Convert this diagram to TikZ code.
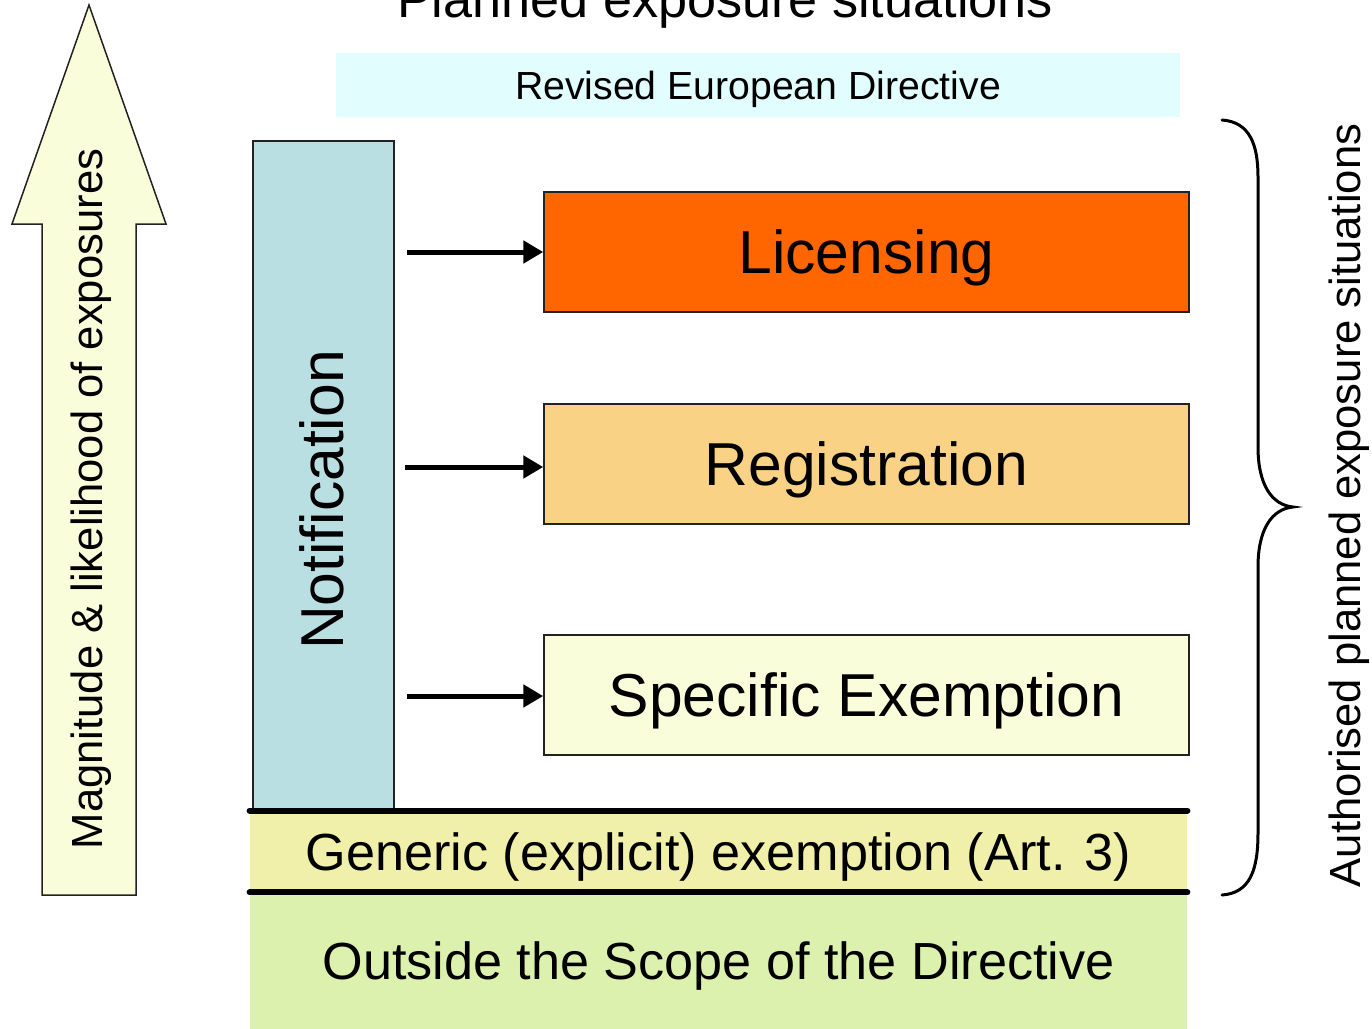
\documentclass[tikz,border=0pt]{standalone}
\usepackage{fontspec}
\setmainfont{Liberation Sans}
\usetikzlibrary{arrows.meta}
\definecolor{arrowfill}{HTML}{FAFDDA}
\definecolor{revfill}{HTML}{E2FDFD}
\definecolor{notifill}{HTML}{B9DFE3}
\definecolor{licfill}{HTML}{FF6600}
\definecolor{regfill}{HTML}{FAD286}
\definecolor{specfill}{HTML}{FAFDDA}
\definecolor{genfill}{HTML}{F0F0AA}
\definecolor{outfill}{HTML}{DDF1AE}
\definecolor{edge}{HTML}{222222}
\begin{document}
\begin{tikzpicture}[x=0.5pt,y=-0.5pt,
  box/.style={draw=edge, line width=0.75pt, inner sep=0pt,
    minimum width=322.5pt, minimum height=60pt,
    font=\fontsize{30.3}{36}\selectfont, text height=21.7pt, text depth=0pt},
  band/.style={inner sep=0pt, minimum width=468.5pt,
    font=\fontsize{26.1}{31}\selectfont, text height=18.7pt, text depth=0pt},
  sidetext/.style={inner sep=0pt, font=\fontsize{21.8}{26}\selectfont},
  feed/.style={line width=2.5pt, -{Triangle[length=10pt,width=11pt]}},
  sepline/.style={line width=3pt, line cap=round},
  bracestyle/.style={line width=1.5pt, line cap=round}]
\path[use as bounding box] (0,0) rectangle (1372,1029);
\clip (0,0) rectangle (1372,1029);

% title
\node[inner sep=0pt, anchor=base, font=\fontsize{26.1}{31}\selectfont] (title) at (725,17) {Planned exposure situations};

% revised directive banner
\node[fill=revfill, inner sep=0pt, minimum width=422pt, minimum height=32pt,
  font=\fontsize{19.6}{24}\selectfont, text height=14pt, text depth=0pt] (rev) at (758,85) {Revised European Directive};

% magnitude arrow
\draw[fill=arrowfill, draw=edge, line width=0.75pt, line join=miter]
  (89,5) -- (166,224) -- (136,224) -- (136,895) -- (42,895) -- (42,224) -- (12,224) -- cycle;
\node[sidetext, rotate=90, anchor=base] (mag) at (102,499) {Magnitude \& likelihood of exposures};

% bottom bands
\node[band, fill=outfill, minimum height=68.5pt] (out) at (718.5,960.5) {Outside the Scope of the Directive};
\node[band, fill=genfill, minimum height=40.5pt] (gen) at (718.5,851.5) {Generic (explicit) exemption (Art. 3)};

% notification column
\node[draw=edge, fill=notifill, line width=0.75pt, inner sep=0pt,
  minimum width=70.5pt, minimum height=334.5pt] (noti) at (323.5,475.5) {};
\node[inner sep=0pt, rotate=90, anchor=base, font=\fontsize{30.3}{36}\selectfont] (notitext) at (343,500) {Notification};

% regulatory boxes
\node[box, fill=licfill] (lic) at (866.5,252) {Licensing};
\node[box, fill=regfill] (reg) at (866.5,464) {Registration};
\node[box, fill=specfill] (spec) at (866.5,695) {Specific Exemption};

% arrows
\coordinate (a1) at (407,252);
\coordinate (a2) at (405,467);
\coordinate (a3) at (407,696);
\draw[feed] (a1) -- (lic.west);
\draw[feed] (a2) -- (a2 -| reg.west);
\draw[feed] (a3) -- (a3 -| spec.west);

% separator lines
\draw[sepline] (gen.north west) -- (gen.north east);
\draw[sepline] (gen.south west) -- (gen.south east);

% brace
\draw[bracestyle] (1222,120) .. controls (1250,122) and (1258,145) .. (1258,177)
  -- (1258,447) .. controls (1258,485) and (1272,505) .. (1293,507)
  .. controls (1272,509) and (1258,529) .. (1258,567)
  -- (1258,833) .. controls (1258,870) and (1250,893) .. (1222,895);
\node[sidetext, rotate=90, anchor=base] (auth) at (1360,505.5) {Authorised planned exposure situations};
\end{tikzpicture}
\end{document}
